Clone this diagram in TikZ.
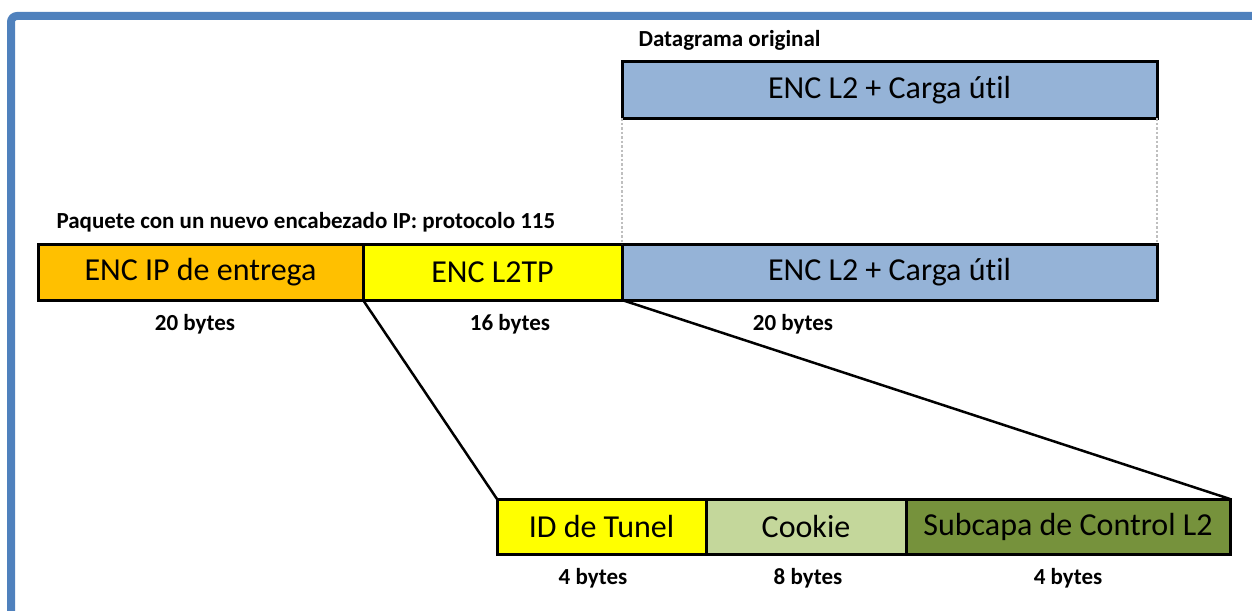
\documentclass[tikz,border=0pt]{standalone}
\usepackage{fontspec}
\setmainfont{Carlito}[Ligatures={NoCommon}]
\usepackage{tikz}
\definecolor{framecolor}{HTML}{4F81BD}
\definecolor{encorange}{HTML}{FFC000}
\definecolor{encyellow}{HTML}{FFFF00}
\definecolor{encblue}{HTML}{95B3D7}
\definecolor{cookiegreen}{HTML}{C4D79B}
\definecolor{ctrlgreen}{HTML}{76923C}
\begin{document}
\begin{tikzpicture}[x=1pt,y=-1pt,
        box/.style={draw, line width=3pt, minimum height=56pt, inner sep=0pt, outer sep=0pt,
          font=\fontsize{32}{36}\selectfont},
        lbl/.style={font=\bfseries\fontsize{23}{26}\selectfont}]
        \useasboundingbox (0,0) rectangle (1252,610);
        \clip (0,0) rectangle (1252,610);
        % Frame
        \draw[framecolor, line width=8pt, rounded corners=6pt] (11,700) -- (11,16) -- (1400,16);

        % Original datagram
        \node[lbl, anchor=west] (origtitle) at (635,40) {Datagrama original};
        \node[box, fill=encblue, minimum width=535pt, anchor=north west] (orig) at (622,62) {ENC L2 + Carga útil};

        % New packet
        \node[lbl, anchor=west] (pkttitle) at (53,222) {Paquete con un nuevo encabezado IP: protocolo 115};
        \node[box, fill=encorange, minimum width=325pt, anchor=north west] (ipenc) at (38,244) {ENC IP de entrega};
        \node[box, fill=encyellow, minimum width=259pt, anchor=west] (l2tp) at (ipenc.east) {ENC L2TP};
        \node[box, fill=encblue, minimum width=535pt, anchor=west] (payload) at (l2tp.east) {ENC L2 + Carga útil};
        \node[lbl] (ipbytes) at (195,324) {20 bytes};
        \node[lbl] (l2tpbytes) at (510,324) {16 bytes};
        \node[lbl] (payloadbytes) at (793,324) {20 bytes};

        \draw[gray!50, line width=2.5pt, dotted] (orig.south west) -- (payload.north west);
        \draw[gray!50, line width=2.5pt, dotted] (orig.south east) -- (payload.north east);

        % L2TP header detail
        \node[box, fill=encyellow, minimum width=209pt, minimum height=55pt, anchor=north west] (tunel) at (497,499) {ID de Tunel};
        \node[box, fill=cookiegreen, minimum width=200pt, minimum height=55pt, anchor=west] (cookie) at (tunel.east) {Cookie};
        \node[box, fill=ctrlgreen, minimum width=324pt, minimum height=55pt, anchor=west] (ctrl) at (cookie.east) {Subcapa de Control L2};
        \node[lbl] (tunelbytes) at (593,578) {4 bytes};
        \node[lbl] (cookiebytes) at (808,578) {8 bytes};
        \node[lbl] (ctrlbytes) at (1068,578) {4 bytes};

        \draw[line width=2.5pt] (l2tp.south west) -- (tunel.north west);
        \draw[line width=2.5pt] (l2tp.south east) -- (ctrl.north east);
\end{tikzpicture}
\end{document}
